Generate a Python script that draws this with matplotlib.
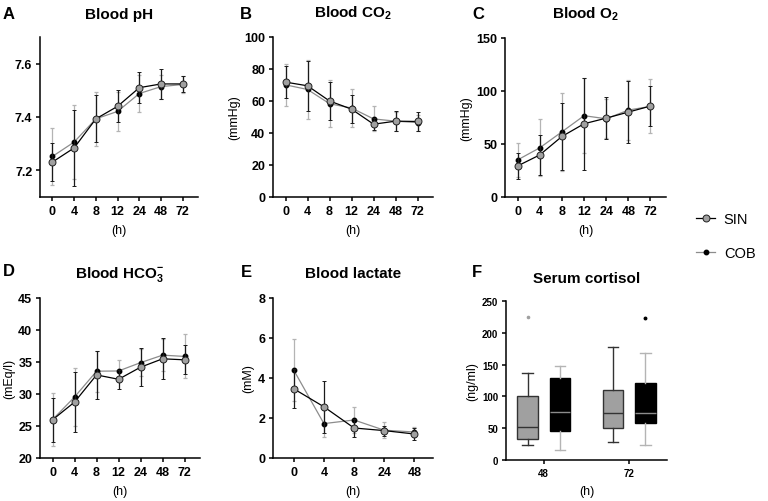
import matplotlib
matplotlib.use('Agg')
import matplotlib.pyplot as plt
from matplotlib.lines import Line2D

plt.rcParams['font.family'] = ['Liberation Sans', 'DejaVu Sans']
plt.rcParams['mathtext.fontset'] = 'custom'
plt.rcParams['mathtext.rm'] = 'Liberation Sans'
plt.rcParams['mathtext.bf'] = 'Liberation Sans:bold'

# x categories (hours)
hours = ['0', '4', '8', '12', '24', '48', '72']
lact_hours = ['0', '4', '8', '24', '48']
cort_hours = ['48', '72']

# Blood pH
ph_sin = [7.231, 7.284, 7.393, 7.440, 7.510, 7.524, 7.524]
ph_sin_sd = [0.070, 0.141, 0.088, 0.060, 0.057, 0.055, 0.030]
ph_cob = [7.252, 7.306, 7.393, 7.421, 7.488, 7.514, 7.522]
ph_cob_sd = [0.108, 0.140, 0.100, 0.073, 0.070, 0.045, 0.032]

# Blood CO2 (mmHg)
co2_sin = [71.8, 69.5, 60.0, 54.9, 45.5, 47.4, 47.2]
co2_sin_sd = [9.8, 15.8, 12.0, 8.9, 3.6, 6.3, 5.9]
co2_cob = [70.1, 67.2, 58.3, 55.6, 48.8, 47.4, 46.5]
co2_cob_sd = [13.3, 18.7, 14.6, 11.7, 7.8, 6.0, 5.0]

# Blood O2 (mmHg)
o2_sin = [29.3, 39.7, 57.1, 69.1, 74.4, 80.1, 85.8]
o2_sin_sd = [12.1, 18.9, 32.0, 43.4, 19.9, 28.9, 19.1]
o2_cob = [35.0, 46.4, 61.5, 76.7, 73.8, 82.0, 85.5]
o2_cob_sd = [16.1, 26.8, 36.9, 35.6, 18.3, 28.4, 25.5]

# Blood HCO3- (mEq/l)
hco3_sin = [25.97, 28.74, 32.98, 32.30, 34.19, 35.50, 35.34]
hco3_sin_sd = [3.46, 4.74, 3.70, 1.50, 2.96, 3.20, 2.28]
hco3_cob = [26.00, 29.53, 33.56, 33.60, 34.90, 36.07, 35.87]
hco3_cob_sd = [4.10, 4.60, 3.20, 1.73, 2.07, 2.50, 3.43]

# Blood lactate (mM)
lac_sin = [3.46, 2.56, 1.50, 1.37, 1.20]
lac_sin_sd = [0.97, 1.29, 0.43, 0.25, 0.28]
lac_cob = [4.39, 1.72, 1.90, 1.39, 1.30]
lac_cob_sd = [1.55, 0.67, 0.63, 0.40, 0.27]

# Serum cortisol (ng/ml) box stats
sin_whislo = [23.1, 28.8]
sin_q1 = [33.5, 49.8]
sin_med = [51.9, 73.9]
sin_q3 = [100.6, 110.1]
sin_whishi = [136.8, 177.7]
sin_fliers = [[225.4], []]
cob_whislo = [16.2, 24.1]
cob_q1 = [45.6, 58.2]
cob_med = [76.0, 73.4]
cob_q3 = [129.5, 121.1]
cob_whishi = [147.3, 168.8]
cob_fliers = [[], [222.8]]

GREY = '#a0a0a0'
LGREY = '#b4b4b4'
W, H = 768, 502

fig = plt.figure(figsize=(7.68, 5.02), dpi=100)


def add_ax(left, top, right, bottom):
    return fig.add_axes([left / W, 1 - bottom / H, (right - left) / W, (bottom - top) / H])


def style(ax, tick_size=9):
    for s in ['top', 'right']:
        ax.spines[s].set_visible(False)
    for s in ['left', 'bottom']:
        ax.spines[s].set_linewidth(1.1)
    ax.tick_params(width=1.1, length=3, pad=2.5, labelsize=tick_size)
    for lab in ax.get_xticklabels() + ax.get_yticklabels():
        lab.set_fontweight('bold')


def line_panel(ax, cats, sin, sin_sd, cob, cob_sd):
    x = list(range(len(cats)))
    ax.errorbar(x, cob, yerr=cob_sd, color='#8c8c8c', lw=0.9, marker='o', ms=3.2,
                mfc='black', mec='black', ecolor=LGREY, elinewidth=0.9,
                capsize=1.5, capthick=0.9, zorder=2)
    ax.errorbar(x, sin, yerr=sin_sd, color='black', lw=0.9, marker='o', ms=5,
                mfc=GREY, mec='#202020', mew=0.7, ecolor='#1a1a1a', elinewidth=0.9,
                capsize=1.5, capthick=0.9, zorder=3)
    ax.set_xticks(x)
    ax.set_xticklabels(cats)
    ax.set_xlabel('(h)', fontsize=9, labelpad=5.5)


# A
axA = add_ax(40, 38, 198, 198)
line_panel(axA, hours, ph_sin, ph_sin_sd, ph_cob, ph_cob_sd)
axA.set_xlim(-0.57, 6.7)
axA.set_ylim(7.1, 7.7)
axA.set_yticks([7.2, 7.4, 7.6])
axA.set_title('Blood pH', fontsize=11, fontweight='bold', pad=14)
style(axA)

# B
axB = add_ax(273, 38, 433, 198)
line_panel(axB, hours, co2_sin, co2_sin_sd, co2_cob, co2_cob_sd)
axB.set_xlim(-0.57, 6.7)
axB.set_ylim(0, 100)
axB.set_yticks(range(0, 101, 20))
axB.set_ylabel('(mmHg)', fontsize=9, labelpad=3)
axB.set_title(r'Blood CO$_{\mathbf{2}}$', fontsize=11, fontweight='bold', pad=15)
style(axB)

# C
axC = add_ax(505, 39, 666, 198)
line_panel(axC, hours, o2_sin, o2_sin_sd, o2_cob, o2_cob_sd)
axC.set_xlim(-0.57, 6.7)
axC.set_ylim(0, 150)
axC.set_yticks([0, 50, 100, 150])
axC.set_ylabel('(mmHg)', fontsize=9, labelpad=3)
axC.set_title(r'Blood O$_{\mathbf{2}}$', fontsize=11, fontweight='bold', pad=15)
style(axC)

# D
axD = add_ax(40, 299, 200, 459)
line_panel(axD, hours, hco3_sin, hco3_sin_sd, hco3_cob, hco3_cob_sd)
axD.set_xlim(-0.57, 6.7)
axD.set_ylim(20, 45)
axD.set_yticks(range(20, 46, 5))
axD.set_ylabel('(mEq/l)', fontsize=9, labelpad=2)
axD.set_title(r'Blood HCO$_{\mathbf{3}}^{\mathbf{-}}$', fontsize=11, fontweight='bold', pad=15)
style(axD)

# E
axE = add_ax(273, 299, 433, 459)
line_panel(axE, lact_hours, lac_sin, lac_sin_sd, lac_cob, lac_cob_sd)
axE.set_xlim(-0.69, 4.62)
axE.set_ylim(0, 8)
axE.set_yticks(range(0, 9, 2))
axE.set_ylabel('(mM)', fontsize=9, labelpad=3)
axE.set_title('Blood lactate', fontsize=11, fontweight='bold', pad=15)
style(axE)

# F
axF = add_ax(506, 302, 667, 461)
off, bw = 0.188, 0.24
sin_stats = [dict(whislo=sin_whislo[i], q1=sin_q1[i], med=sin_med[i], q3=sin_q3[i],
                  whishi=sin_whishi[i], fliers=sin_fliers[i]) for i in range(len(cort_hours))]
cob_stats = [dict(whislo=cob_whislo[i], q1=cob_q1[i], med=cob_med[i], q3=cob_q3[i],
                  whishi=cob_whishi[i], fliers=cob_fliers[i]) for i in range(len(cort_hours))]
pos = list(range(len(cort_hours)))
axF.bxp(sin_stats, positions=[p - off for p in pos], widths=bw, patch_artist=True,
        boxprops=dict(facecolor=GREY, edgecolor='#333333', lw=1),
        medianprops=dict(color='#333333', lw=1),
        whiskerprops=dict(color='#333333', lw=1), capprops=dict(color='#333333', lw=1),
        capwidths=bw / 2,
        flierprops=dict(marker='o', ms=1.6, mfc=GREY, mec=GREY))
axF.bxp(cob_stats, positions=[p + off for p in pos], widths=bw, patch_artist=True,
        boxprops=dict(facecolor='black', edgecolor='black', lw=1),
        medianprops=dict(color='#8c8c8c', lw=1),
        whiskerprops=dict(color=LGREY, lw=1), capprops=dict(color=LGREY, lw=1),
        capwidths=bw / 2,
        flierprops=dict(marker='o', ms=1.8, mfc='black', mec='black'))
axF.set_xticks(pos)
axF.set_xticklabels(cort_hours)
axF.set_xlim(-0.44, 1.44)
axF.set_ylim(0, 250)
axF.set_yticks(range(0, 251, 50))
axF.set_ylabel('(ng/ml)', fontsize=9, labelpad=3)
axF.set_xlabel('(h)', fontsize=9, labelpad=5)
axF.set_title('Serum cortisol', fontsize=11, fontweight='bold', pad=13.5)
style(axF, tick_size=7)

# panel letters
for letter, x, y in [('A', 3, 19), ('B', 240, 19), ('C', 472, 19),
                     ('D', 3, 276), ('E', 241, 277), ('F', 472, 277)]:
    fig.text(x / W, 1 - y / H, letter, fontsize=12, fontweight='bold', va='baseline')

# legend
handles = [Line2D([], [], color='black', lw=0.9, marker='o', ms=5, mfc=GREY, mec='#202020', mew=0.7),
           Line2D([], [], color='#8c8c8c', lw=0.9, marker='o', ms=3.2, mfc='black', mec='black')]
fig.legend(handles, ['SIN', 'COB'], loc='upper left', bbox_to_anchor=(683 / W, 1 - 200 / H),
           frameon=False, fontsize=10.5, handlelength=1.3, handletextpad=0.6, labelspacing=1.35)

fig.savefig('out.png', dpi=100)
